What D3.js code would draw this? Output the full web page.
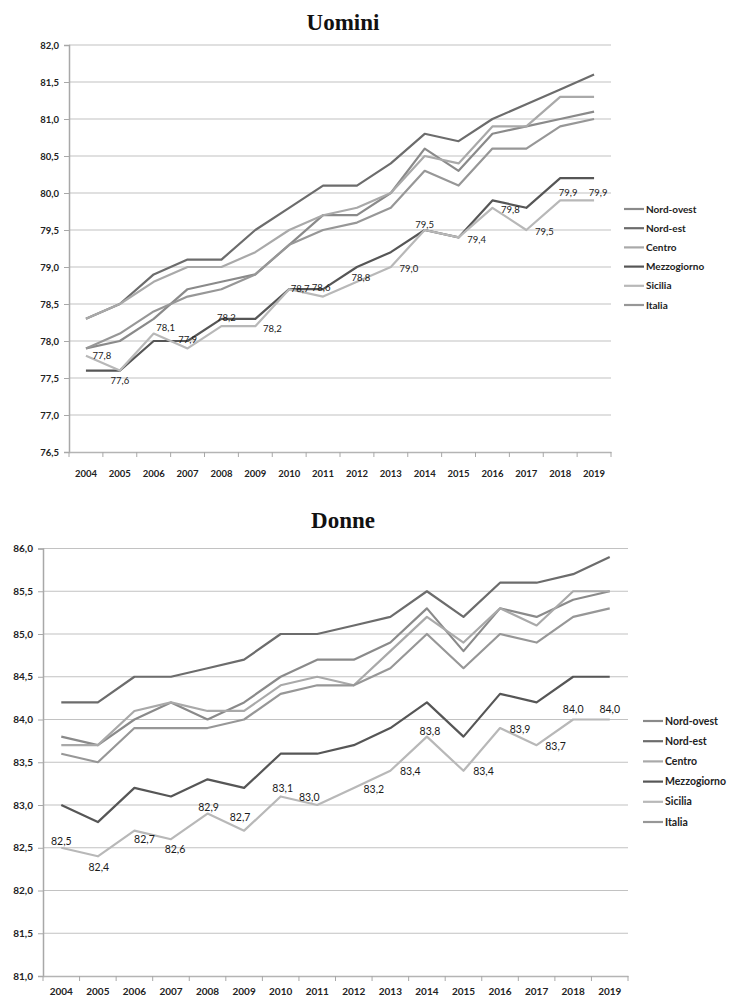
<!DOCTYPE html>
<html><head><meta charset="utf-8">
<script src="https://cdn.jsdelivr.net/npm/d3@7/dist/d3.min.js"></script>
<style>
html,body{margin:0;padding:0;background:#fff;}
svg{display:block;}
</style></head>
<body>
<svg id="chart" width="730" height="998"></svg>
<script>
// ---------- DATA ----------
const years = ["2004","2005","2006","2007","2008","2009","2010","2011","2012","2013","2014","2015","2016","2017","2018","2019"];
const seriesNames = ["Nord-ovest","Nord-est","Centro","Mezzogiorno","Sicilia","Italia"];

const uominiNordOvest   = [77.9,78.0,78.3,78.7,78.8,78.9,79.3,79.7,79.7,80.0,80.6,80.3,80.8,80.9,81.0,81.1];
const uominiNordEst     = [78.3,78.5,78.9,79.1,79.1,79.5,79.8,80.1,80.1,80.4,80.8,80.7,81.0,81.2,81.4,81.6];
const uominiCentro      = [78.3,78.5,78.8,79.0,79.0,79.2,79.5,79.7,79.8,80.0,80.5,80.4,80.9,80.9,81.3,81.3];
const uominiMezzogiorno = [77.6,77.6,78.0,78.0,78.3,78.3,78.7,78.7,79.0,79.2,79.5,79.4,79.9,79.8,80.2,80.2];
const uominiSicilia     = [77.8,77.6,78.1,77.9,78.2,78.2,78.7,78.6,78.8,79.0,79.5,79.4,79.8,79.5,79.9,79.9];
const uominiItalia      = [77.9,78.1,78.4,78.6,78.7,78.9,79.3,79.5,79.6,79.8,80.3,80.1,80.6,80.6,80.9,81.0];
const uominiTicks = [76.5,77.0,77.5,78.0,78.5,79.0,79.5,80.0,80.5,81.0,81.5,82.0];

const donneNordOvest   = [83.8,83.7,84.0,84.2,84.0,84.2,84.5,84.7,84.7,84.9,85.3,84.8,85.3,85.2,85.4,85.5];
const donneNordEst     = [84.2,84.2,84.5,84.5,84.6,84.7,85.0,85.0,85.1,85.2,85.5,85.2,85.6,85.6,85.7,85.9];
const donneCentro      = [83.7,83.7,84.1,84.2,84.1,84.1,84.4,84.5,84.4,84.8,85.2,84.9,85.3,85.1,85.5,85.5];
const donneMezzogiorno = [83.0,82.8,83.2,83.1,83.3,83.2,83.6,83.6,83.7,83.9,84.2,83.8,84.3,84.2,84.5,84.5];
const donneSicilia     = [82.5,82.4,82.7,82.6,82.9,82.7,83.1,83.0,83.2,83.4,83.8,83.4,83.9,83.7,84.0,84.0];
const donneItalia      = [83.6,83.5,83.9,83.9,83.9,84.0,84.3,84.4,84.4,84.6,85.0,84.6,85.0,84.9,85.2,85.3];
const donneTicks = [81.0,81.5,82.0,82.5,83.0,83.5,84.0,84.5,85.0,85.5,86.0];

// ---------- STYLE ----------
const colors = {"Nord-ovest":"#8a8a8a","Nord-est":"#6c6c6c","Centro":"#a9a9a9","Mezzogiorno":"#565656","Sicilia":"#b8b8b8","Italia":"#979797"};
// label offsets (dx, dy) relative to each Sicilia point
const labelOffsetsU = [[16,0],[0,10],[12,-6],[0,-9],[5,-9],[17,2],[11,-1],[-2,-9],[4,-4],[18,2],[0,-5],[18,2],[18,2],[18,2],[8,-8],[4,-8]];
const labelOffsetsD = [[0,-6],[1,11],[10,9],[4,10],[1,-6],[-4,-13],[2,-8],[-8,-8],[20,1],[20,1],[3,-5],[20,1],[20,1],[19,1],[0,-10],[0,-10]];

const fmt = v => d3.format(".1f")(v).replace(".", ",");
const svg = d3.select("#chart");

function drawChart(cfg){
  const g = svg.append("g");
  const x = d3.scaleBand().domain(years).range([cfg.x0, cfg.x1]);
  const y = d3.scaleLinear().domain([cfg.ticks[0], cfg.ticks[cfg.ticks.length-1]]).range([cfg.y0, cfg.y1]);
  const cx = yr => x(yr) + x.bandwidth()/2;

  // title
  g.append("text").attr("x", 343).attr("y", cfg.titleY)
    .attr("text-anchor","middle")
    .style("font-family","'Liberation Serif','DejaVu Serif',serif")
    .style("font-weight","bold").style("font-size","23px").attr("fill","#111")
    .text(cfg.title);

  // gridlines
  g.append("g").selectAll("line").data(cfg.ticks.slice(1)).join("line")
    .attr("x1", cfg.x0).attr("x2", cfg.x1)
    .attr("y1", d => y(d)).attr("y2", d => y(d))
    .attr("stroke","#c2c2c2").attr("stroke-width",1.2);

  // y axis
  const ya = d3.axisLeft(y).tickValues(cfg.ticks).tickFormat(fmt).tickSize(5).tickPadding(cfg.yPad);
  const yg = g.append("g").attr("transform",`translate(${cfg.x0},0)`).call(ya);
  yg.select(".domain").attr("stroke","#a8a8a8").attr("stroke-width",1.5);
  yg.selectAll(".tick line").attr("stroke","#a8a8a8");
  yg.selectAll("text").style("font-family","Lato,'Open Sans',sans-serif").style("font-weight","bold")
    .style("font-size",cfg.tickFont).attr("fill","#222");

  // x axis
  const xa = d3.axisBottom(x).tickSize(0).tickPadding(cfg.xPad);
  const xg = g.append("g").attr("transform",`translate(0,${cfg.y0})`).call(xa);
  xg.select(".domain").attr("stroke","#b4b4b4").attr("stroke-width",1.5);
  xg.selectAll("text").style("font-family","Lato,'Open Sans',sans-serif").style("font-weight","bold")
    .style("font-size",cfg.tickFont).attr("fill","#222");
  // tick marks at band boundaries
  const bounds = years.map(yr => x(yr)).concat([cfg.x1]);
  xg.append("g").selectAll("line").data(bounds).join("line")
    .attr("x1", d => d).attr("x2", d => d).attr("y1",0).attr("y2",5)
    .attr("stroke","#a8a8a8").attr("stroke-width",1);

  // lines
  const line = d3.line().x((d,i) => cx(years[i])).y(d => y(d));
  cfg.series.forEach((vals, k) => {
    g.append("path").datum(vals).attr("d", line)
      .attr("fill","none").attr("stroke", colors[seriesNames[k]])
      .attr("stroke-width",2.2).attr("stroke-linejoin","round");
  });

  // Sicilia labels
  const sic = cfg.series[4];
  g.append("g").selectAll("text").data(sic).join("text")
    .attr("x",(d,i) => cx(years[i]) + cfg.offsets[i][0])
    .attr("y",(d,i) => y(d) + cfg.offsets[i][1])
    .attr("dy","0.35em").attr("text-anchor","middle")
    .style("font-family","Lato,'Open Sans',sans-serif").style("font-size",cfg.labelFont)
    .attr("fill","#1a1a1a")
    .text(d => fmt(d));

  // legend
  const lg = g.append("g");
  seriesNames.forEach((name,k) => {
    const yy = cfg.legY + k*cfg.legStep;
    lg.append("line").attr("x1",cfg.legX).attr("x2",cfg.legX+20).attr("y1",yy).attr("y2",yy)
      .attr("stroke",colors[name]).attr("stroke-width",2.2);
    lg.append("text").attr("x",cfg.legX+22).attr("y",yy).attr("dy","0.35em")
      .style("font-family","Lato,'Open Sans',sans-serif").style("font-weight","bold")
      .style("font-size",cfg.legFont).attr("fill","#222").text(name);
  });
}

drawChart({
  title:"Uomini", titleY:30,
  x0:69, x1:611, y0:452, y1:45,
  ticks:uominiTicks,
  series:[uominiNordOvest,uominiNordEst,uominiCentro,uominiMezzogiorno,uominiSicilia,uominiItalia],
  offsets:labelOffsetsU,
  yPad:5, xPad:18, tickFont:"9.5px", labelFont:"9.5px",
  legX:624, legY:209, legStep:19.2, legFont:"10px"
});

drawChart({
  title:"Donne", titleY:528,
  x0:43, x1:628, y0:976, y1:548.5,
  ticks:donneTicks,
  series:[donneNordOvest,donneNordEst,donneCentro,donneMezzogiorno,donneSicilia,donneItalia],
  offsets:labelOffsetsD,
  yPad:5, xPad:12, tickFont:"10px", labelFont:"10.5px",
  legX:643, legY:721, legStep:20.2, legFont:"10.5px"
});
</script>
</body></html>
